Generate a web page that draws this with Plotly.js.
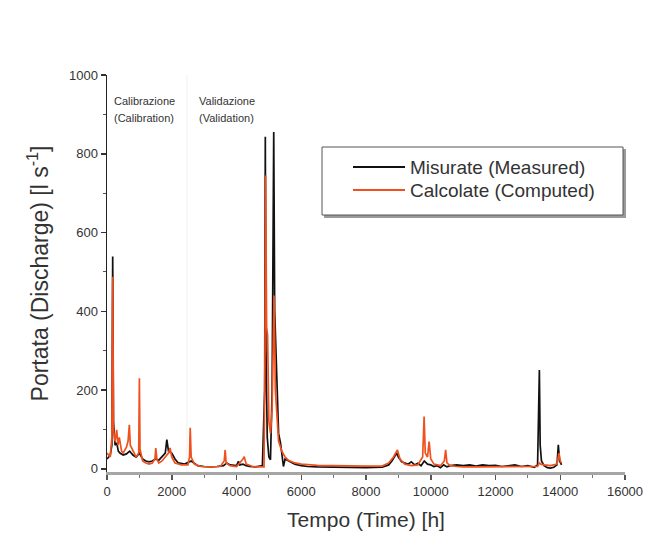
<!DOCTYPE html>
<html>
<head>
<meta charset="utf-8">
<script src="https://cdn.plot.ly/plotly-3.0.1.min.js"></script>
<style>html,body{margin:0;padding:0;background:#fff;}#chart{width:654px;height:546px;}</style>
</head>
<body>
<div id="chart"></div>
<script>
// ---- Data ----
const measuredTime = [0,50,100,150,176,200,250,300,350,400,500,600,700,800,900,1000,1100,1200,1300,1400,1500,1600,1700,1800,1848,1900,2000,2100,2200,2400,2600,2800,3000,3200,3400,3600,3700,3800,4000,4060,4100,4200,4300,4400,4600,4800,4870,4890,4910,4950,5000,5050,5100,5150,5180,5220,5260,5300,5360,5420,5450,5500,5600,5700,5800,6000,6200,6500,7000,7500,8000,8500,8700,8800,8900,8950,9000,9100,9200,9300,9400,9500,9600,9700,9800,9900,10000,10100,10200,10300,10400,10500,10600,10800,11000,11200,11400,11600,11800,12000,12200,12400,12600,12800,13000,13200,13300,13355,13380,13420,13500,13600,13700,13800,13900,13940,13980,14040];
const measuredQ = [25,30,35,60,539,120,60,66,45,40,35,38,45,35,30,40,25,20,18,20,25,22,30,40,74,45,40,25,15,12,20,8,6,5,6,8,15,10,8,19,10,12,8,6,5,8,200,843,300,80,30,23,200,855,400,280,150,90,65,30,6,25,20,15,12,8,6,5,4,3,3,4,10,20,35,40,30,18,15,12,18,10,14,8,20,12,10,6,8,3,10,5,8,10,8,10,7,10,8,9,6,8,10,6,8,4,10,251,60,20,8,3,2,4,10,61,20,10];

const computedTime = [0,50,100,150,176,200,250,300,340,380,450,500,600,650,690,720,800,900,980,1000,1020,1100,1200,1300,1400,1480,1507,1540,1600,1700,1800,1900,1950,2000,2100,2300,2500,2550,2570,2600,2700,2900,3100,3300,3500,3620,3650,3680,3800,4000,4100,4200,4240,4300,4500,4700,4850,4880,4900,4930,4960,5000,5050,5100,5140,5160,5200,5250,5300,5400,5500,5600,5700,5800,6000,6500,7000,7500,8000,8500,8700,8850,8970,9050,9200,9400,9600,9750,9795,9830,9900,9950,10000,10100,10300,10420,10460,10500,10600,10800,11000,11500,12000,12500,13000,13300,13355,13400,13500,13700,13900,13960,14000,14040];
const computedQ = [40,35,30,80,488,100,70,99,60,80,45,40,55,70,112,60,45,30,40,230,50,20,15,12,15,25,53,25,15,20,30,40,53,30,15,10,10,30,104,30,12,6,5,5,6,20,48,15,8,6,15,25,31,12,6,5,5,300,745,360,340,120,90,150,400,440,200,120,70,45,30,22,18,15,12,9,8,7,7,7,15,30,48,25,12,8,10,30,133,40,30,69,25,12,8,20,48,15,8,6,5,5,5,5,5,6,15,12,10,8,12,40,20,15];

const seriesNames = ["Misurate (Measured)", "Calcolate (Computed)"];
const seriesColors = ["#111111", "#f0501e"];
const xTickVals = [0,2000,4000,6000,8000,10000,12000,14000,16000];
const yTickVals = [0,200,400,600,800,1000];
const yTickText = ["0","200","400","600","800","1000"];
const periodLabels = [["Calibrazione","(Calibration)"],["Validazione","(Validation)"]];

// ---- Geometry helpers (pixel -> paper) ----
const W = 654, H = 546;
const M = {l:107, r:29, t:75, b:74};
const PW = W - M.l - M.r, PH = H - M.t - M.b;
const px = x => (x - M.l) / PW;
const py = y => (H - M.b - y) / PH;
const FONT = '"Liberation Sans", Arial, sans-serif';

const traces = [
  {x: measuredTime, y: measuredQ, type:'scatter', mode:'lines', name: seriesNames[0],
   line:{color:seriesColors[0], width:1.7}, showlegend:false},
  {x: computedTime, y: computedQ, type:'scatter', mode:'lines', name: seriesNames[1],
   line:{color:seriesColors[1], width:1.7}, showlegend:false}
];

const shapes = [
  // faint calibration / validation separator
  {type:'line', xref:'x', yref:'paper', x0:2470, x1:2470, y0:0, y1:1, line:{color:'#f0f0f0', width:1}, layer:'below'},
  // legend shadow
  {type:'rect', xref:'paper', yref:'paper', x0:px(324), x1:px(626), y0:py(218), y1:py(149), fillcolor:'#9a9a9a', line:{width:0}, layer:'above'},
  // legend box
  {type:'rect', xref:'paper', yref:'paper', x0:px(322), x1:px(623), y0:py(215), y1:py(147), fillcolor:'#ffffff', line:{color:'#555', width:1}, layer:'above'},
  // legend lines
  {type:'line', xref:'paper', yref:'paper', x0:px(353), x1:px(405), y0:py(167), y1:py(167), line:{color:seriesColors[0], width:1.8}, layer:'above'},
  {type:'line', xref:'paper', yref:'paper', x0:px(353), x1:px(405), y0:py(190), y1:py(190), line:{color:seriesColors[1], width:1.8}, layer:'above'}
];

const annotations = [
  {xref:'paper', yref:'paper', x:px(408), y:py(167), xanchor:'left', yanchor:'middle', showarrow:false,
   text: seriesNames[0], font:{family:FONT, size:19, color:'#333'}},
  {xref:'paper', yref:'paper', x:px(408), y:py(190), xanchor:'left', yanchor:'middle', showarrow:false,
   text: seriesNames[1], font:{family:FONT, size:19, color:'#333'}},
  {xref:'paper', yref:'paper', x:px(112), y:py(101), xanchor:'left', yanchor:'middle', showarrow:false,
   text: periodLabels[0][0], font:{family:FONT, size:11, color:'#333'}},
  {xref:'paper', yref:'paper', x:px(112), y:py(118), xanchor:'left', yanchor:'middle', showarrow:false,
   text: periodLabels[0][1], font:{family:FONT, size:11, color:'#333'}},
  {xref:'paper', yref:'paper', x:px(197), y:py(101), xanchor:'left', yanchor:'middle', showarrow:false,
   text: periodLabels[1][0], font:{family:FONT, size:11, color:'#333'}},
  {xref:'paper', yref:'paper', x:px(197), y:py(118), xanchor:'left', yanchor:'middle', showarrow:false,
   text: periodLabels[1][1], font:{family:FONT, size:11, color:'#333'}}
];

const layout = {
  width: W, height: H,
  margin: M,
  paper_bgcolor:'#ffffff', plot_bgcolor:'#ffffff',
  font:{family:FONT, color:'#333'},
  showlegend:false,
  xaxis:{
    range:[0,16000], tickvals:xTickVals, tickformat:'d',
    showgrid:false, zeroline:false, showline:true, linecolor:'#a6a6a6', linewidth:3,
    ticks:'outside', ticklen:5, tickwidth:1.5, tickcolor:'#555',
    minor:{dtick:1000, ticks:'outside', ticklen:3, tickcolor:'#777', tickwidth:1},
    tickfont:{family:FONT, size:13, color:'#333'},
    title:{text:'Tempo (Time) [h]', font:{family:FONT, size:21, color:'#333'}, standoff:15}
  },
  yaxis:{
    range:[-8,1000], tickvals:yTickVals, ticktext:yTickText,
    showgrid:false, zeroline:false, showline:true, linecolor:'#222', linewidth:1.5,
    ticks:'outside', ticklen:5, tickwidth:1.5, tickcolor:'#333',
    minor:{dtick:100, ticks:'outside', ticklen:3, tickcolor:'#555', tickwidth:1},
    tickfont:{family:FONT, size:13, color:'#333'},
    title:{text:'Portata (Discharge) [l s<sup>-1</sup>]', font:{family:FONT, size:23, color:'#333'}, standoff:14}
  },
  shapes: shapes,
  annotations: annotations
};

Plotly.newPlot('chart', traces, layout, {staticPlot:true, displayModeBar:false});
</script>
</body>
</html>
